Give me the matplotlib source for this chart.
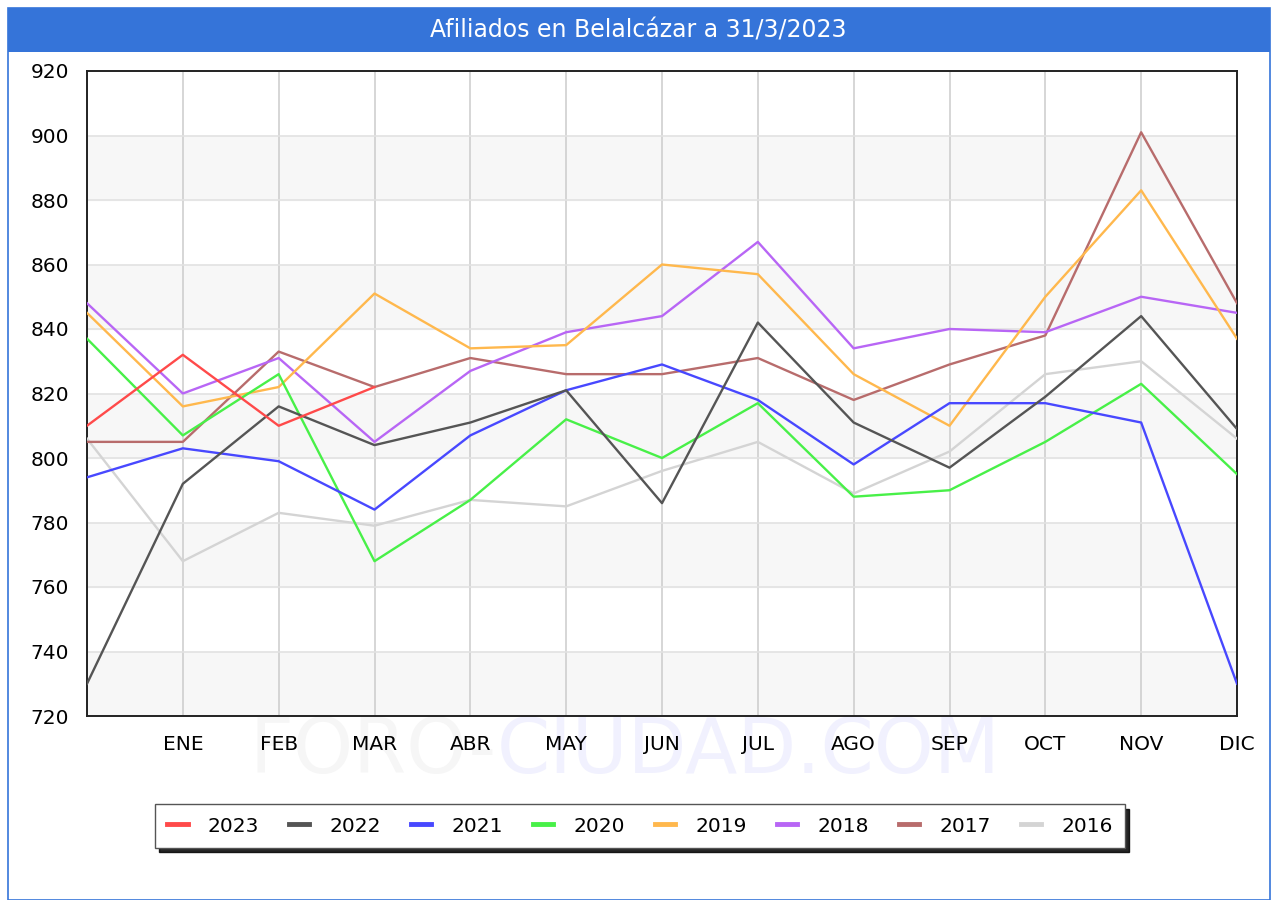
import matplotlib.pyplot as plt
from matplotlib.patches import Rectangle

meses = ['', 'ENE', 'FEB', 'MAR', 'ABR', 'MAY', 'JUN', 'JUL', 'AGO', 'SEP', 'OCT', 'NOV', 'DIC']

# first point = diciembre del año anterior
a2023 = [810, 832, 810, 822]
a2022 = [730, 792, 816, 804, 811, 821, 786, 842, 811, 797, 819, 844, 809]
a2021 = [794, 803, 799, 784, 807, 821, 829, 818, 798, 817, 817, 811, 730]
a2020 = [837, 807, 826, 768, 787, 812, 800, 817, 788, 790, 805, 823, 795]
a2019 = [845, 816, 822, 851, 834, 835, 860, 857, 826, 810, 850, 883, 837]
a2018 = [848, 820, 831, 805, 827, 839, 844, 867, 834, 840, 839, 850, 845]
a2017 = [805, 805, 833, 822, 831, 826, 826, 831, 818, 829, 838, 901, 848]
a2016 = [806, 768, 783, 779, 787, 785, 796, 805, 789, 802, 826, 830, 806]

series = [
    ('2023', a2023, '#ff4a4a'),
    ('2022', a2022, '#555555'),
    ('2021', a2021, '#4848ff'),
    ('2020', a2020, '#48f048'),
    ('2019', a2019, '#ffb84d'),
    ('2018', a2018, '#b866f5'),
    ('2017', a2017, '#b86c6c'),
    ('2016', a2016, '#d4d4d4'),
]

fig = plt.figure(figsize=(12.77, 9), dpi=100)

# marco y barra de titulo
fig.patches.append(Rectangle((8/1277, 0), 1262/1277, 892/900, transform=fig.transFigure,
                             facecolor='none', edgecolor='#3574d9', lw=1.2, zorder=0))
fig.patches.append(Rectangle((8/1277, 1 - 52/900), 1262/1277, 44/900, transform=fig.transFigure,
                             facecolor='#3574d9', edgecolor='none', zorder=0))
fig.text(0.5, 1 - 31/900, 'Afiliados en Belalcázar a 31/3/2023', color='white',
         fontsize=17, ha='center', va='center')

# marca de agua
fig.text(497/1277, 1 - 752/900, 'FORO-', fontsize=55, color='#f6f6f6', ha='right', va='center', zorder=-1)
fig.text(497/1277, 1 - 752/900, 'CIUDAD.COM', fontsize=55, color='#f1f1fe', ha='left', va='center', zorder=-1)

ax = fig.add_axes([87/1277, 1 - 716/900, 1150/1277, 645/900])
ax.set_xlim(0, 12)
ax.set_ylim(720, 920)

# bandas alternas
for y0 in range(720, 920, 40):
    ax.axhspan(y0, y0 + 20, color='#f7f7f7', zorder=0)

ax.set_yticks(range(720, 921, 20))
ax.set_xticks(range(0, 13))
ax.set_xticklabels(meses)
ax.grid(axis='y', color='#e2e2e2', lw=1.2, zorder=1)
ax.grid(axis='x', color='#cfcfcf', lw=1.2, zorder=1)
ax.tick_params(length=0, labelsize=14.5)
ax.tick_params(axis='x', pad=14)
ax.tick_params(axis='y', pad=13)
for s in ax.spines.values():
    s.set_color('#222222')
    s.set_linewidth(1.4)

for nombre, vals, col in reversed(series):
    ax.plot(range(len(vals)), vals, color=col, lw=1.7, label=nombre, zorder=3)

handles, labels = ax.get_legend_handles_labels()
leg = fig.legend(handles[::-1], labels[::-1], loc='center', bbox_to_anchor=(640/1277, 1 - 826/900),
                 ncol=8, fontsize=14.5, frameon=True, fancybox=False,
                 shadow={'color': 'black', 'alpha': 0.85, 'ox': 3, 'oy': -3},
                 handlelength=1.0, handletextpad=1.0, columnspacing=1.5, borderpad=0.6)
leg.get_frame().set_edgecolor('#555555')
for h in leg.get_lines():
    h.set_linewidth(3.5)

fig.savefig('out.png', dpi=100)
